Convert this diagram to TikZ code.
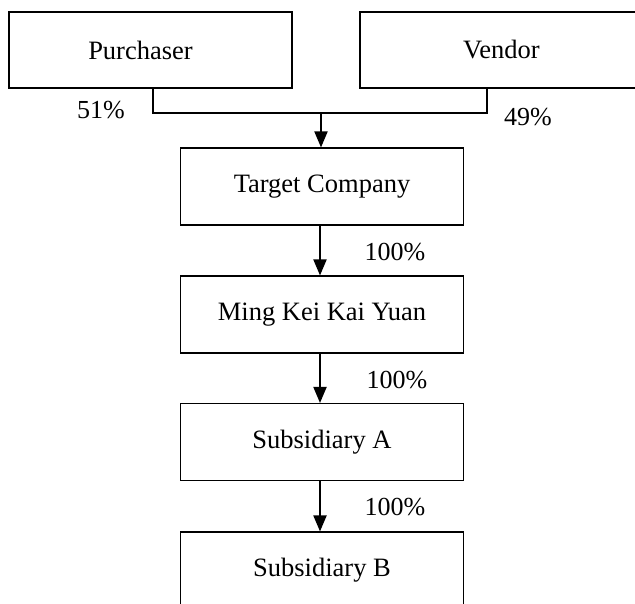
\documentclass[tikz,border=0pt]{standalone}
\usepackage{fontspec}
\setmainfont{Liberation Serif}
\usetikzlibrary{arrows.meta}
\begin{document}
\begin{tikzpicture}[x=1pt,y=-1pt,
  box/.style={draw=black,line width=1.1pt,rectangle,inner sep=0pt,minimum width=283pt,minimum height=77pt,font=\fontsize{26.5}{30}\selectfont},
  lbl/.style={inner sep=0pt,font=\fontsize{26}{30}\selectfont},
  conn/.style={draw=black,line width=1.9pt},
  arr/.style={conn,-{Triangle[length=16pt,width=13pt]}}]
\clip (0,0) rectangle (635,603);
\fill[white] (0,0) rectangle (635,603);
\node[box,minimum height=76pt] (pur) at (150.5,50) {Purchaser\rule{20pt}{0pt}};
\node[box,minimum height=76pt] (ven) at (501.5,50) {Vendor};
\node[box] (tgt) at (322,186.5) {Target Company};
\node[box] (ming) at (322,314.5) {Ming Kei Kai Yuan};
\node[box] (suba) at (322,442) {Subsidiary A};
\node[box] (subb) at (322,570.5) {Subsidiary B};
\coordinate (j) at (321,113);
\draw[conn] ([xshift=2.5pt]pur.south) |- (j);
\draw[conn] ([xshift=-14.5pt]ven.south) |- (j);
\draw[arr] (j) -- (j |- tgt.north);
\draw[arr] ([xshift=-2pt]tgt.south) -- ([xshift=-2pt]ming.north);
\draw[arr] ([xshift=-2pt]ming.south) -- ([xshift=-2pt]suba.north);
\draw[arr] ([xshift=-2pt]suba.south) -- ([xshift=-2pt]subb.north);
\node[lbl] (l51) at (101,110) {51\%};
\node[lbl] (l49) at (528,117) {49\%};
\node[lbl] (l1) at (395,252) {100\%};
\node[lbl] (l2) at (397,380) {100\%};
\node[lbl] (l3) at (395,507) {100\%};
\end{tikzpicture}
\end{document}
